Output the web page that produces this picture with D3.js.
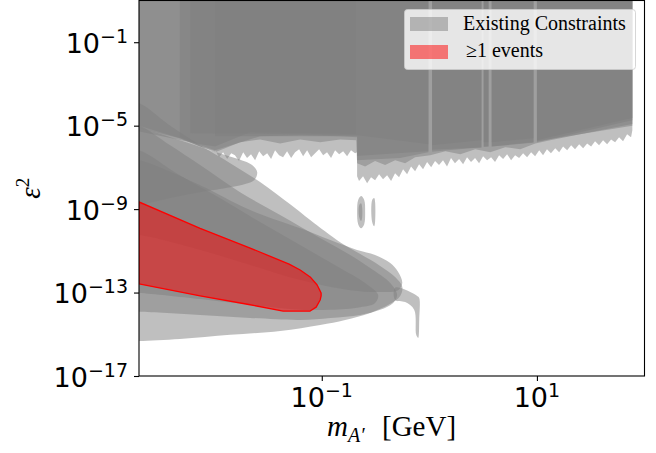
<!DOCTYPE html>
<html>
<head>
<meta charset="utf-8">
<script src="https://cdn.jsdelivr.net/npm/d3@7"></script>
<style>
  body { margin: 0; background: #fff; }
</style>
</head>
<body>
<script>
// Axis ranges and ticks
var xDomain = [0.002, 100];
var yDomain = [1e-17, 10];
var xTicks = [0.1, 10];
var xTickExp = ['\u22121', '1'];
var yTicks = [1e-1, 1e-5, 1e-9, 1e-13, 1e-17];
var yTickExp = ['\u22121', '\u22125', '\u22129', '\u221213', '\u221217'];

// Existing constraints, [mass GeV, eps^2]
// upper (prompt / collider) limits with ragged lower edge
var topLight = [[0.0102, 10],
  [0.0102, 6.7e-7], [0.0111, 3.1e-7], [0.0121, 5.3e-7], [0.0132, 2.5e-7], [0.0144, 4.8e-7],
  [0.0156, 3.8e-7], [0.0170, 2.0e-7], [0.0186, 5.3e-7], [0.0202, 2.8e-7], [0.0220, 4.3e-7],
  [0.0240, 2.2e-7], [0.0262, 6.0e-7], [0.0285, 3.4e-7], [0.0311, 4.8e-7], [0.0338, 2.5e-7],
  [0.0368, 6.7e-7], [0.0401, 3.8e-7], [0.0437, 3.1e-7], [0.0476, 6.0e-7], [0.0519, 2.8e-7],
  [0.0565, 5.3e-7], [0.0616, 7.4e-7], [0.0671, 3.4e-7], [0.0731, 6.7e-7], [0.0796, 3.1e-7],
  [0.0867, 4.8e-7], [0.0945, 7.4e-7], [0.103, 3.8e-7], [0.112, 5.3e-7], [0.122, 2.8e-7],
  [0.133, 6.7e-7], [0.145, 4.3e-7], [0.158, 6.0e-7], [0.172, 3.4e-7], [0.187, 6.7e-7],
  [0.204, 4.8e-7], [0.213, 5.3e-7],
  [0.213, 3.8e-8], [0.222, 2.2e-8], [0.242, 3.8e-8], [0.264, 1.75e-8], [0.287, 3.4e-8],
  [0.313, 2.4e-8], [0.341, 4.7e-8], [0.371, 2.7e-8], [0.405, 4.2e-8], [0.441, 2.2e-8],
  [0.480, 5.3e-8], [0.523, 3.4e-8], [0.570, 8.2e-8], [0.621, 4.7e-8], [0.676, 1.1e-7],
  [0.737, 6.6e-8], [0.803, 1.4e-7], [0.874, 8.2e-8], [0.953, 1.8e-7], [1.04, 1.02e-7],
  [1.13, 2.0e-7], [1.23, 1.3e-7], [1.34, 2.2e-7], [1.46, 1.1e-7], [1.59, 2.8e-7],
  [1.73, 1.6e-7], [1.89, 2.5e-7], [2.06, 1.4e-7], [2.24, 3.1e-7], [2.44, 1.8e-7],
  [2.66, 2.8e-7], [2.90, 1.6e-7], [3.16, 3.4e-7], [3.44, 2.2e-7], [3.75, 3.1e-7],
  [4.08, 1.8e-7], [4.45, 3.8e-7], [4.85, 2.5e-7], [5.28, 4.3e-7], [5.75, 2.2e-7],
  [6.27, 3.8e-7], [6.83, 2.8e-7], [7.44, 4.8e-7], [8.10, 3.1e-7], [8.83, 5.3e-7],
  [9.62, 3.4e-7], [10.5, 6.7e-7], [11.4, 3.8e-7], [12.4, 7.4e-7], [13.5, 4.8e-7],
  [14.8, 8.3e-7], [16.1, 5.3e-7], [17.5, 1.0e-6], [19.1, 6.7e-7], [20.8, 1.15e-6],
  [22.6, 7.4e-7], [24.7, 1.3e-6], [26.9, 8.3e-7], [29.3, 1.4e-6], [31.9, 1.0e-6],
  [34.7, 1.8e-6], [37.8, 1.15e-6], [41.2, 2.0e-6], [44.9, 1.3e-6], [48.9, 2.2e-6],
  [53.3, 1.6e-6], [58.0, 2.8e-6], [63.2, 1.8e-6], [68.9, 3.9e-6], [75.0, 2.8e-6],
  [77.1, 6.0e-6], [77.1, 10]];

var topDark1 = [[0.002, 10], [0.002, 7.5e-6], [0.0048, 2.5e-6], [0.0074, 1.0e-6], [0.0102, 5.3e-7],
  [0.0174, 1.6e-6], [0.0267, 2.2e-6], [0.041, 1.4e-6], [0.063, 2.2e-6], [0.0966, 1.6e-6],
  [0.148, 2.2e-6], [0.209, 2.0e-6], [0.213, 1.6e-7], [0.253, 1.1e-7], [0.313, 2.0e-7],
  [0.388, 1.3e-7], [0.481, 2.2e-7], [0.596, 1.6e-7], [0.738, 3.1e-7], [1.02, 3.8e-7],
  [1.41, 6.0e-7], [1.94, 4.3e-7], [2.67, 7.4e-7], [3.68, 5.3e-7], [5.08, 9.3e-7],
  [7.0, 7.4e-7], [9.66, 1.4e-6], [13.3, 2.0e-6], [20.4, 3.1e-6], [31.3, 4.8e-6],
  [48.1, 7.5e-6], [77.1, 1.2e-5], [77.1, 10]];

var topDark2a = [[0.0048, 10], [0.0048, 2.8e-6], [0.0074, 1.15e-6], [0.0102, 6.7e-7], [0.0267, 3.1e-6],
  [0.063, 3.5e-6], [0.148, 3.1e-6], [0.213, 2.8e-6], [0.213, 2.2e-7], [0.536, 2.8e-7],
  [0.98, 5.3e-7], [0.98, 10]];
var topDark2b = [[1.06, 10], [1.06, 5.6e-7], [2.4, 8.3e-7], [3.05, 9.0e-7], [3.05, 10]];
var topDark2c = [[3.2, 10], [3.2, 9.5e-7], [3.55, 1.0e-6], [3.55, 10]];
var topDark2d = [[3.8, 10], [3.8, 1.0e-6], [9.3, 1.5e-6], [9.3, 10]];
var topDark2e = [[10, 10], [10, 1.6e-6], [25.3, 4.8e-6], [77.1, 1.8e-5], [77.1, 10]];

var topDark3a = [[0.006, 10], [0.006, 4.3e-6], [0.063, 3.9e-6], [0.213, 3.5e-6], [0.98, 1.3e-6], [0.98, 10]];
var topDark3b = [[1.06, 10], [1.06, 1.15e-6], [3.05, 2.0e-6], [3.05, 10]];
var topDark3c = [[3.2, 10], [3.2, 1.6e-6], [3.55, 1.6e-6], [3.55, 10]];
var topDark3d = [[3.8, 10], [3.8, 1.6e-6], [9.3, 2.5e-6], [9.3, 10]];
var topDark3e = [[10, 10], [10, 2.0e-6], [77.1, 2.3e-5], [77.1, 10]];

var topLeft = [[0.002, 10], [0.002, 5.3e-6], [0.0074, 1.3e-6], [0.0102, 1.0e-6], [0.0216, 4.8e-6],
  [0.209, 3.9e-6], [0.209, 10]];

var topBandA = [[0.002, 10], [0.002, 1.0e-5], [0.0048, 2.5e-6], [0.0074, 1.0e-6], [0.0102, 6.0e-7],
  [0.0102, 3.1e-6], [0.213, 3.1e-6], [0.213, 3.5e-7], [0.98, 6.0e-7], [0.98, 10]];
var topBandB = [[1.06, 10], [1.06, 7.0e-7], [3.05, 9.0e-7], [3.05, 10]];
var topBandC = [[3.2, 10], [3.2, 1.0e-6], [3.55, 1.0e-6], [3.55, 10]];
var topBandD = [[3.8, 10], [3.8, 1.0e-6], [9.3, 1.6e-6], [9.3, 10]];
var topBandE = [[10, 10], [10, 1.8e-6], [77.1, 1.0e-5], [77.1, 10]];

// beam dump / supernova style tongues
var tongueA = [[0.0015, 1.2e-4], [0.002, 1.2e-4], [0.0039, 1.0e-5], [0.0074, 1.15e-6], [0.0141, 1.6e-7],
  [0.0267, 2.0e-8], [0.0508, 1.7e-9], [0.078, 3.0e-10], [0.148, 2.6e-11], [0.228, 7.0e-12],
  [0.349, 1.9e-12], [0.481, 5.6e-13], [0.56, 1.9e-13], [0.536, 6.9e-14], [0.433, 2.9e-14],
  [0.282, 1.06e-14], [0.165, 4.9e-15], [0.0966, 2.8e-15], [0.041, 1.45e-15], [0.0141, 9.4e-16],
  [0.0048, 6.0e-16], [0.002, 4.8e-16], [0.0015, 4.8e-16]];
var tongueB = [[0.0015, 1.0e-5], [0.002, 1.0e-5], [0.0039, 1.15e-6], [0.0074, 1.3e-7], [0.0174, 6.5e-9],
  [0.041, 5.2e-10], [0.0966, 4.1e-11], [0.184, 6.3e-12], [0.282, 1.5e-12], [0.433, 2.9e-13],
  [0.502, 7.7e-14], [0.461, 3.2e-14], [0.349, 1.5e-14], [0.228, 8.5e-15], [0.120, 6.1e-15],
  [0.063, 4.9e-15], [0.0216, 6.1e-15], [0.0074, 8.5e-15], [0.002, 1.2e-14], [0.0015, 1.2e-14]];
var tongueC = [[0.0015, 6.7e-7], [0.002, 6.7e-7], [0.0048, 4.2e-8], [0.0113, 3.4e-9], [0.0267, 2.4e-10],
  [0.063, 1.9e-11], [0.148, 1.5e-12], [0.253, 2.9e-13], [0.334, 7.7e-14], [0.313, 3.2e-14],
  [0.228, 2.0e-14], [0.120, 1.5e-14], [0.063, 1.5e-14], [0.0216, 2.6e-14], [0.0074, 4.9e-14],
  [0.002, 9.6e-14], [0.0015, 9.6e-14]];
var tongueD = [[0.0015, 7.5e-6], [0.002, 7.5e-6], [0.0048, 2.0e-6], [0.0091, 6.7e-7], [0.0156, 2.8e-7],
  [0.0225, 1.3e-7], [0.0251, 5.9e-8], [0.0235, 2.4e-8], [0.0194, 1.6e-8], [0.0141, 1.13e-8],
  [0.0074, 6.5e-9], [0.0039, 3.4e-9], [0.002, 1.55e-9], [0.0015, 1.55e-9]];
var tongueE = [[0.0015, 2.2e-7], [0.002, 2.2e-7], [0.0074, 1.4e-8], [0.0216, 9.0e-10], [0.063, 1.2e-10],
  [0.120, 3.3e-11], [0.213, 1.1e-11], [0.313, 6.3e-12], [0.433, 2.6e-12], [0.513, 9.7e-13],
  [0.56, 2.9e-13], [0.513, 1.3e-13], [0.349, 1.07e-13], [0.184, 1.3e-13], [0.063, 4.0e-13],
  [0.0216, 2.1e-12], [0.0074, 1.1e-11], [0.002, 5.7e-11], [0.0015, 5.7e-11]];
var spike = [[0.481, 1.7e-13], [0.664, 1.07e-13], [0.771, 6.9e-14], [0.805, 5.5e-14], [0.805, 4.9e-15],
  [0.787, 6.7e-16], [0.755, 9.4e-16], [0.723, 1.5e-14], [0.596, 3.5e-14], [0.481, 4.4e-14]];
var blob1 = [[0.218, 2.7e-9], [0.232, 4.2e-9], [0.248, 2.7e-9], [0.253, 7.2e-10], [0.248, 1.9e-10],
  [0.232, 1.2e-10], [0.218, 1.9e-10], [0.213, 7.2e-10]];
var blob1Core = [[0.223, 1.55e-9], [0.232, 1.9e-9], [0.237, 1.25e-9], [0.237, 3.7e-10], [0.232, 2.7e-10],
  [0.223, 4.1e-10]];
var blob2 = [[0.294, 2.7e-9], [0.307, 3.4e-9], [0.313, 2.2e-9], [0.313, 2.4e-10], [0.307, 1.5e-10],
  [0.294, 2.4e-10]];

// >= 1 events region
var eventsRegion = [[0.002, 2.2e-9], [0.0074, 1.2e-10], [0.0216, 1.36e-11], [0.0497, 2.3e-12],
  [0.063, 1.2e-12], [0.078, 5.6e-13], [0.0906, 2.3e-13], [0.0944, 1.5e-13], [0.0986, 9.6e-14],
  [0.0986, 6.9e-14], [0.0966, 4.4e-14], [0.0887, 2.0e-14], [0.078, 1.3e-14], [0.0438, 1.3e-14],
  [0.0216, 2.6e-14], [0.0074, 6.9e-14], [0.002, 2.6e-13]];

var legendLabels = ['Existing Constraints', '\u22651 events'];

var raggedShapes = [topBandA, topBandB, topBandC, topBandD, topBandE, topLeft, topDark1,
  topDark2a, topDark2b, topDark2c, topDark2d, topDark2e,
  topDark3a, topDark3b, topDark3c, topDark3d, topDark3e, topLight];
var smoothShapes = [tongueA, tongueB, tongueC, tongueD, tongueE, spike, blob1, blob1Core, blob2];

var width = 656, height = 453;
var plotLeft = 139, plotRight = 644.5, plotTop = 0.5, plotBottom = 376;

var svg = d3.select('body').append('svg')
  .attr('width', width)
  .attr('height', height)
  .style('display', 'block');

var x = d3.scaleLog().domain(xDomain).range([plotLeft, plotRight]);
var y = d3.scaleLog().domain(yDomain).range([plotBottom, plotTop]);

svg.append('clipPath').attr('id', 'plot')
  .append('rect')
  .attr('x', plotLeft).attr('y', plotTop)
  .attr('width', plotRight - plotLeft).attr('height', plotBottom - plotTop);

var plot = svg.append('g').attr('clip-path', 'url(#plot)');

var lineLinear = d3.line().x(d => x(d[0])).y(d => y(d[1]));
var lineSmooth = d3.line().x(d => x(d[0])).y(d => y(d[1]))
  .curve(d3.curveCatmullRomClosed.alpha(0.5));

// gray constraint fills
plot.selectAll('path.ragged')
  .data(raggedShapes)
  .enter()
  .append('path')
  .attr('class', 'ragged')
  .attr('d', d => lineLinear(d) + 'Z')
  .style('fill', 'gray')
  .style('fill-opacity', 0.5);

plot.selectAll('path.smooth')
  .data(smoothShapes)
  .enter()
  .append('path')
  .attr('class', 'smooth')
  .attr('d', lineSmooth)
  .style('fill', 'gray')
  .style('fill-opacity', 0.5);

// red events region
plot.append('path')
  .attr('d', lineLinear(eventsRegion) + 'Z')
  .style('fill', 'red')
  .style('fill-opacity', 0.5)
  .style('stroke', 'red')
  .style('stroke-width', 1.3)
  .style('stroke-linejoin', 'round');

// axes
var xAxis = d3.axisBottom(x).tickValues(xTicks).tickSize(5).tickSizeOuter(0).tickFormat('');
var yAxis = d3.axisLeft(y).tickValues(yTicks).tickSize(5).tickSizeOuter(0).tickFormat('');

svg.append('g').attr('transform', 'translate(0,' + plotBottom + ')').call(xAxis)
  .call(g => g.select('.domain').remove())
  .selectAll('line').style('stroke', '#000').style('stroke-width', 1.1);
svg.append('g').attr('transform', 'translate(' + plotLeft + ',0)').call(yAxis)
  .call(g => g.select('.domain').remove())
  .selectAll('line').style('stroke', '#000').style('stroke-width', 1.1);

svg.append('rect')
  .attr('x', plotLeft).attr('y', plotTop)
  .attr('width', plotRight - plotLeft).attr('height', plotBottom - plotTop)
  .style('fill', 'none')
  .style('stroke', '#000')
  .style('stroke-width', 1.1);

// tick labels 10^n
var tickFont = 'DejaVu Sans, sans-serif';
xTicks.forEach((t, i) => {
  var txt = svg.append('text')
    .attr('x', x(t)).attr('y', 407)
    .attr('text-anchor', 'middle')
    .style('font-family', tickFont)
    .style('font-size', '27px');
  txt.append('tspan').text('10');
  txt.append('tspan').attr('dy', -10).style('font-size', '19px').text(xTickExp[i]);
});
yTicks.forEach((t, i) => {
  var txt = svg.append('text')
    .attr('x', 128).attr('y', y(t) + 10.5)
    .attr('text-anchor', 'end')
    .style('font-family', tickFont)
    .style('font-size', '27px');
  txt.append('tspan').text('10');
  txt.append('tspan').attr('dy', -10).style('font-size', '19px').text(yTickExp[i]);
});

// axis labels
var serif = 'Liberation Serif, DejaVu Serif, serif';
var xl = svg.append('text')
  .attr('x', 327).attr('y', 436)
  .style('font-family', serif)
  .style('font-size', '29px');
xl.append('tspan').style('font-style', 'italic').text('m');
xl.append('tspan').attr('dy', 6).style('font-style', 'italic').style('font-size', '20px').text('A\u2032');
xl.append('tspan').attr('x', 382).attr('dy', -6).text('[GeV]');

var yl = svg.append('text')
  .attr('transform', 'translate(40,' + ((plotTop + plotBottom) / 2) + ') rotate(-90)')
  .attr('text-anchor', 'middle')
  .style('font-family', serif)
  .style('font-size', '29px');
yl.append('tspan').style('font-style', 'italic').text('\u03b5');
yl.append('tspan').attr('dy', -11).style('font-size', '19px').text('2');

// legend
var legend = svg.append('g');
legend.append('rect')
  .attr('x', 404.5).attr('y', 9.5)
  .attr('width', 231).attr('height', 60)
  .attr('rx', 3)
  .style('fill', '#fff').style('fill-opacity', 0.8)
  .style('stroke', '#ccc').style('stroke-opacity', 0.8);

var legendColors = ['gray', 'red'];
legendLabels.forEach((label, i) => {
  legend.append('rect')
    .attr('x', 410).attr('y', 17 + i * 28)
    .attr('width', 38).attr('height', 14)
    .style('fill', legendColors[i]).style('fill-opacity', 0.5);
  legend.append('text')
    .attr('x', i === 0 ? 463 : 466).attr('y', 30 + i * 27)
    .style('font-family', serif)
    .style('font-size', '20px')
    .text(label);
});
</script>
</body>
</html>
